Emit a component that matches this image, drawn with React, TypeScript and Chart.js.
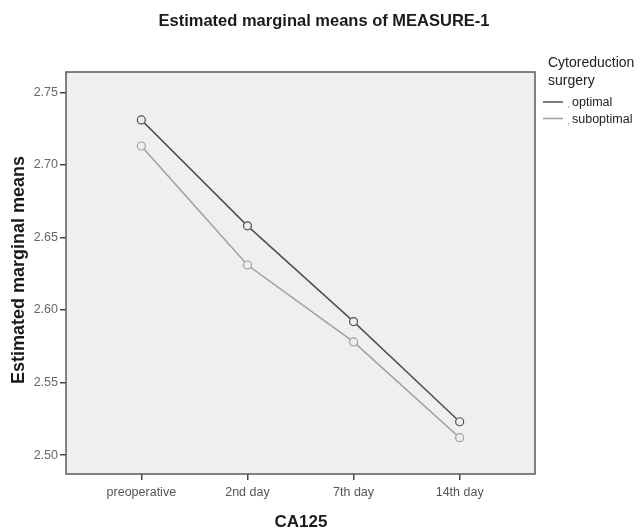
import { useEffect, useRef } from "react";
import { Chart, registerables } from "chart.js";
Chart.register(...registerables);

const categories = ["preoperative", "2nd day", "7th day", "14th day"];
const optimal = [2.731, 2.658, 2.592, 2.523];
const suboptimal = [2.713, 2.631, 2.578, 2.512];
const yTicks = [2.5, 2.55, 2.6, 2.65, 2.7, 2.75];
const seriesNames = ["optimal", "suboptimal"];
const seriesColors = ["#505050", "#a0a0a0"];
const chartTitle = "Estimated marginal means of MEASURE-1";
const yTitle = "Estimated marginal means";
const xTitle = "CA125";
const legendTitle = ["Cytoreduction", "surgery"];

const FONT = "'Liberation Sans', Arial, Helvetica, sans-serif";
const PLOT_BG = "#efefef";

const decorPlugin = {
  id: "decor",
  beforeDraw(chart: any) {
    const { ctx, chartArea: a, width, height } = chart;
    ctx.save();
    ctx.fillStyle = "#ffffff";
    ctx.fillRect(0, 0, width, height);
    ctx.fillStyle = PLOT_BG;
    ctx.fillRect(a.left, a.top, a.right - a.left, a.bottom - a.top);
    ctx.restore();
  },
  afterDraw(chart: any) {
    const { ctx, chartArea: a } = chart;
    ctx.save();
    // plot border
    ctx.strokeStyle = "#5a5a5a";
    ctx.lineWidth = 1.5;
    ctx.strokeRect(a.left, a.top, a.right - a.left, a.bottom - a.top);
    // title
    ctx.fillStyle = "#1a1a1a";
    ctx.font = `bold 16.5px ${FONT}`;
    ctx.textAlign = "center";
    ctx.textBaseline = "middle";
    ctx.fillText(chartTitle, 324, 21);
    // x title
    ctx.font = `bold 17px ${FONT}`;
    ctx.fillText(xTitle, 301, 522);
    // y title
    ctx.save();
    ctx.font = `bold 18px ${FONT}`;
    ctx.translate(19, 270);
    ctx.rotate(-Math.PI / 2);
    ctx.fillText(yTitle, 0, 0);
    ctx.restore();
    // legend
    ctx.textAlign = "left";
    ctx.fillStyle = "#222";
    ctx.font = `14px ${FONT}`;
    ctx.fillText(legendTitle[0], 548, 63);
    ctx.fillText(legendTitle[1], 548, 81);
    seriesNames.forEach((n, i) => {
      const y = 103 + i * 16.5;
      ctx.strokeStyle = seriesColors[i];
      ctx.lineWidth = 1.5;
      ctx.beginPath();
      ctx.moveTo(543, y - 1);
      ctx.lineTo(563, y - 1);
      ctx.stroke();
      ctx.fillStyle = "#888";
      ctx.font = `9px ${FONT}`;
      ctx.fillText(",", 567, y + 2);
      ctx.fillStyle = "#222";
      ctx.font = `12.5px ${FONT}`;
      ctx.fillText(n, 572, y);
    });
    ctx.restore();
  },
};

export default function App() {
  const ref = useRef<HTMLCanvasElement>(null);
  useEffect(() => {
    document.body.style.margin = "0";
    const chart = new Chart(ref.current!, {
      type: "line",
      data: {
        datasets: [optimal, suboptimal].map((vals, i) => ({
          label: seriesNames[i],
          data: vals.map((v, j) => ({ x: j, y: v })),
          borderColor: seriesColors[i],
          borderWidth: 1.5,
          pointRadius: 4,
          pointBorderWidth: 1.2,
          pointBackgroundColor: PLOT_BG,
          pointBorderColor: seriesColors[i],
          tension: 0,
        })),
      },
      options: {
        animation: false,
        responsive: false,
        layout: { padding: { top: 72, right: 105, left: 0, bottom: 0 } },
        plugins: {
          legend: { display: false },
          tooltip: { enabled: false },
          title: { display: false },
        },
        scales: {
          x: {
            type: "linear",
            min: -0.71,
            max: 3.71,
            afterBuildTicks: (s: any) => {
              s.ticks = categories.map((_, i) => ({ value: i }));
            },
            afterFit: (s: any) => {
              s.height = 56;
            },
            ticks: {
              callback: (v: any) => categories[v] ?? "",
              color: "#555",
              font: { family: FONT, size: 12.5 },
              padding: 5,
              maxRotation: 0,
              autoSkip: false,
            },
            grid: {
              drawOnChartArea: false,
              drawTicks: true,
              tickLength: 6,
              color: "#444",
              lineWidth: 1.5,
            },
            border: { display: false },
          },
          y: {
            type: "linear",
            min: 2.487,
            max: 2.764,
            afterBuildTicks: (s: any) => {
              s.ticks = yTicks.map((v) => ({ value: v }));
            },
            afterFit: (s: any) => {
              s.width = 66;
            },
            ticks: {
              callback: (v: any) => Number(v).toFixed(2),
              color: "#666",
              font: { family: FONT, size: 12.5 },
              padding: 2,
            },
            grid: {
              drawOnChartArea: false,
              drawTicks: true,
              tickLength: 6,
              color: "#444",
              lineWidth: 1.5,
            },
            border: { display: false },
          },
        },
      },
      plugins: [decorPlugin],
    } as any);
    return () => chart.destroy();
  }, []);
  return (
    <div style={{ position: "absolute", left: 0, top: 0, width: 640, height: 530 }}>
      <canvas ref={ref} width={640} height={530} style={{ width: 640, height: 530 }} />
    </div>
  );
}
